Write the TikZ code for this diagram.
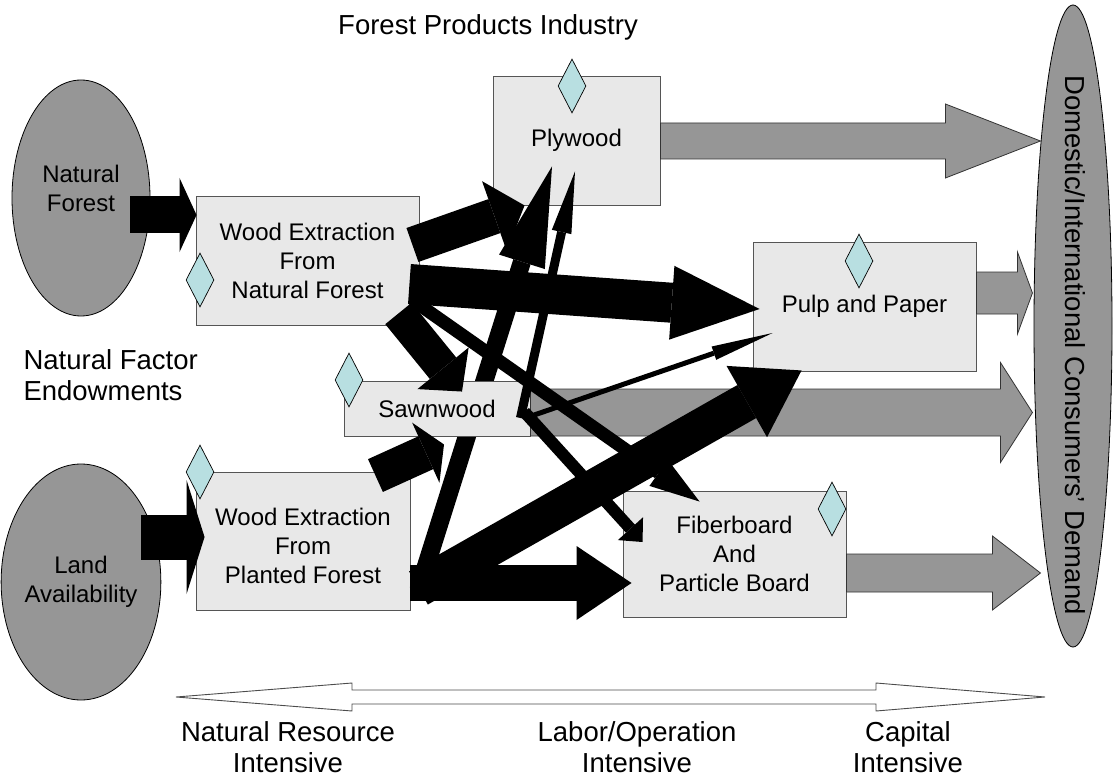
\documentclass[tikz,border=0pt]{standalone}
\usepackage{fontspec}
\setmainfont{Liberation Sans}
\usetikzlibrary{calc, positioning, arrows.meta, shapes.geometric}
\definecolor{boxgrey}{RGB}{232,232,232}
\definecolor{edgegrey}{RGB}{85,85,85}
\definecolor{blobgrey}{RGB}{150,150,150}
\definecolor{gemblue}{RGB}{184,223,225}

\tikzset{
  flow/.style n args={3}{line width=#1, -{Triangle[width=#2, length=#3, line width=0pt]}},
}

\begin{document}
\begin{tikzpicture}[x=1pt, y=-1pt,
    every node/.style={font=\fontsize{24}{29}\selectfont, align=center},
    stage/.style={draw=edgegrey, fill=boxgrey, line width=0.9pt, inner sep=0pt},
    factor/.style={ellipse, draw=black, fill=blobgrey, line width=0.8pt, inner sep=0pt},
    gem/.style={diamond, draw=black, fill=gemblue, line width=0.7pt, aspect=0.5,
                minimum width=28pt, minimum height=54pt, inner sep=0pt},
    grayflow/.style={draw=black!80, fill=blobgrey, line width=0.8pt},
    scalebar/.style={draw=black!70, fill=white, line width=0.9pt},
    caption/.style={font=\fontsize{27.5}{31}\selectfont}]
  \useasboundingbox (0,0) rectangle (1119,778);

  % endowments and demand
  \node[factor, minimum width=138pt, minimum height=236pt] (natfor) at (81,198) {Natural\\Forest\\[-9pt]};
  \node[factor, minimum width=138pt, minimum height=236pt] (landav) at (81,582) {Land\\Availability};
  \node[factor, minimum width=78pt, minimum height=642pt] (demand) at (1073,326) {};
  \node[caption, rotate=-90] (demandlbl) at (1075,345) {Domestic/International Consumers’ Demand};

  % stages
  \node[stage, minimum width=223pt, minimum height=129pt] (natext) at (307.5,260.5) {Wood Extraction\\From\\Natural Forest};
  \node[stage, minimum width=214pt, minimum height=138pt] (plantext) at (303,541) {\\[-1pt]Wood Extraction\\From\\Planted Forest};
  \node[stage, minimum width=167pt, minimum height=129pt] (plyw) at (576.5,140.5) {Plywood};
  \node[stage, minimum width=223pt, minimum height=129pt] (pulp) at (864.5,306.5) {Pulp and Paper};
  \node[stage, minimum width=223pt, minimum height=126pt] (fiber) at (734.5,554) {Fiberboard\\And\\Particle Board};

  % planted wood into plywood runs behind the sawnwood box
  \draw[flow={18pt}{48pt}{100pt}] ([shift={(8,49)}]plantext.east) -- ([shift={(-24.5,-39)}]plyw.south);
  \node[stage, minimum width=186pt, minimum height=55pt] (sawn) at (437,408.5) {Sawnwood};

  \node[caption] (industry) at (488,27) {Forest Products Industry};
  \node[caption, align=left, anchor=west] (endow) at (20,375) {Natural Factor\\Endowments};

  % products to demand
  % source, y-offset, shaft length, half shaft, half head, head length
  \foreach \src/\dy/\len/\s/\h/\l in {plyw/0.5/285/18/37/95, pulp/-13.5/41/21/41/15,
                                      sawn/4/470/23.5/50/32, fiber/19/146/19/37/48} {
    \draw[grayflow] ([shift={(0,\dy)}]\src.east) ++(0,-\s) -- ++(\len,0) -- ++(0,\s-\h)
      -- ++(\l,\h) -- ++(-\l,\h) -- ++(0,\s-\h) -- ++(-\len,0) -- cycle;
  }

  % wood flows
  \draw[flow={37pt}{74pt}{17pt}] ([shift={(-20,17)}]natfor.east) -- ([shift={(1,-45.5)}]natext.west);
  \draw[flow={45pt}{114pt}{18pt}] ([shift={(-20,-45)}]landav.east) -- ([shift={(9,-4)}]plantext.west);
  \draw[flow={36pt}{74pt}{32pt}] ([shift={(-7,-15.5)}]natext.east) -- ([shift={(32,0)}]plyw.south west);
  \draw[flow={40pt}{74pt}{88pt}] ([shift={(-10,23.5)}]natext.east) -- ([shift={(7,2.5)}]pulp.west);
  \draw[flow={34pt}{66pt}{30pt}] ([shift={(-21,-12)}]natext.south east) -- ([shift={(25,11)}]sawn.north);
  \draw[flow={13pt}{32pt}{50pt}] ([shift={(-7,39.5)}]natext.east) -- ([shift={(77,11)}]fiber.north west);
  \draw[flow={9pt}{20pt}{62pt}] ([shift={(-10,9.5)}]sawn.east) -- ([shift={(-1.5,-34)}]plyw.south);
  \draw[flow={5pt}{14pt}{62pt}] ([shift={(-5,9.5)}]sawn.east) -- ([shift={(20,26.5)}]pulp.west);
  \draw[flow={12pt}{34pt}{18pt}] ([shift={(-6,3.5)}]sawn.east) -- ([shift={(20,-12)}]fiber.west);
  \draw[flow={36pt}{66pt}{20pt}] ([shift={(-35,4)}]plantext.north east) -- ([shift={(7,8)}]sawn.south);
  \draw[flow={38pt}{82pt}{63pt}] ([shift={(8,47)}]plantext.east) -- ([shift={(49,-1)}]pulp.south west);
  \draw[flow={36pt}{74pt}{55pt}] ([shift={(0,42)}]plantext.east) -- ([shift={(9,29)}]fiber.west);

  % marks
  \node[gem] (dnat) at (200,280) {};
  \node[gem] (dply) at (572,86) {};
  \node[gem] (dpulp) at (859,261) {};
  \node[gem] (dsawn) at (349,380) {};
  \node[gem] (dplant) at (200,472) {};
  \node[gem] (dfiber) at (832,509) {};

  % intensity scale
  \draw[scalebar] (176,697) -- (352,683) -- (352,690) -- (876,690) -- (876,683) -- (1045,697)
    -- (876,711) -- (876,704) -- (352,704) -- (352,711) -- cycle;
  \node[caption] (nri) at (288,747) {Natural Resource\\Intensive};
  \node[caption] (loi) at (637,747) {Labor/Operation\\Intensive};
  \node[caption] (ci) at (908,747) {Capital\\Intensive};
\end{tikzpicture}
\end{document}
